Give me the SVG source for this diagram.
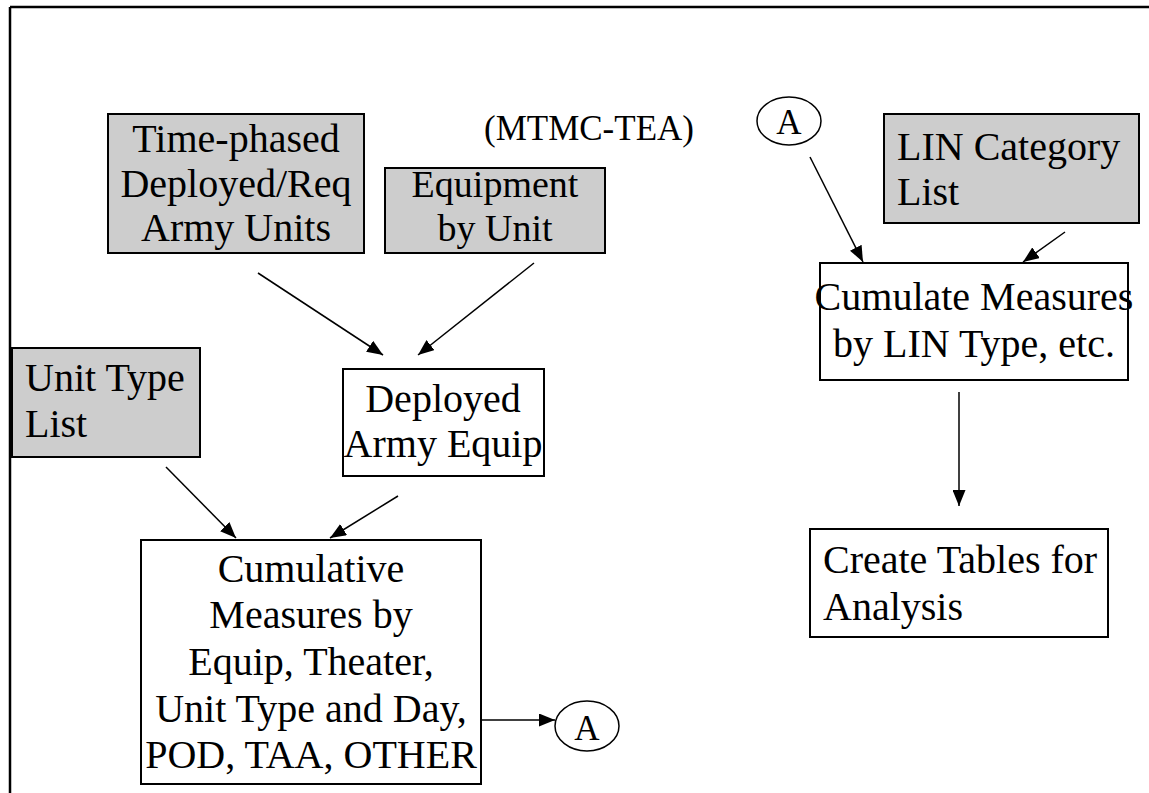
<svg xmlns="http://www.w3.org/2000/svg" width="1149" height="793" viewBox="0 0 1149 793">
<defs>
<style>
.box{stroke:#000;stroke-width:2;}
.g{fill:#cdcdcd;}
.w{fill:#fff;}
.t{font-family:"Liberation Serif","Times New Roman",serif;font-size:40px;fill:#000;}
.c{text-anchor:middle;}
.edge{stroke:#000;stroke-width:1.5;fill:none;marker-end:url(#ah);}
</style>
<marker id="ah" markerUnits="userSpaceOnUse" markerWidth="17" markerHeight="13" refX="16" refY="6.5" orient="auto">
<path d="M0,0 L16,6.5 L0,13 z" fill="#000"/>
</marker>
</defs>
<rect width="1149" height="793" fill="#fff"/>
<g id="frame">
<line x1="10" y1="7" x2="1149" y2="7" stroke="#000" stroke-width="2.5"/>
<line x1="10" y1="7" x2="10" y2="793" stroke="#000" stroke-width="2.5"/>
</g>
<g id="connectors">
<line class="edge" x1="258" y1="273" x2="383" y2="355"/>
<line class="edge" x1="534" y1="263" x2="418" y2="355"/>
<line class="edge" x1="166" y1="467" x2="236" y2="538"/>
<line class="edge" x1="398" y1="496" x2="330" y2="538"/>
<line class="edge" x1="481" y1="720" x2="555" y2="720"/>
<line class="edge" x1="810" y1="157" x2="863" y2="262"/>
<line class="edge" x1="1065" y1="232" x2="1023" y2="262"/>
<line class="edge" x1="959" y1="392" x2="959" y2="506"/>
</g>
<g id="time-phased">
<rect class="box g" x="108" y="114" width="256" height="139"/>
<text class="t c" x="236" y="152">Time-phased</text>
<text class="t c" x="236" y="197">Deployed/Req</text>
<text class="t c" x="236" y="241">Army Units</text>
</g>
<g id="mtmc">
<text class="t" x="484" y="140" style="font-size:35px">(MTMC-TEA)</text>
</g>
<g id="equipment">
<rect class="box g" x="385" y="168" width="220" height="85"/>
<text class="t c" x="495" y="197" style="font-size:38px">Equipment</text>
<text class="t c" x="495" y="241" style="font-size:38px">by Unit</text>
</g>
<g id="unit-type-list">
<rect class="box g" x="12" y="348" width="188" height="109"/>
<text class="t" x="25" y="391">Unit Type</text>
<text class="t" x="25" y="437">List</text>
</g>
<g id="deployed">
<rect class="box w" x="343" y="369" width="201" height="107"/>
<text class="t c" x="443" y="412">Deployed</text>
<text class="t c" x="443" y="457">Army Equip</text>
</g>
<g id="cumulative">
<rect class="box w" x="141" y="540" width="340" height="244"/>
<text class="t c" x="311" y="582">Cumulative</text>
<text class="t c" x="311" y="628">Measures by</text>
<text class="t c" x="311" y="675">Equip, Theater,</text>
<text class="t c" x="311" y="722">Unit Type and Day,</text>
<text class="t c" x="311" y="768">POD, TAA, OTHER</text>
</g>
<g id="a-out">
<ellipse cx="587" cy="726" rx="32" ry="25" fill="#fff" stroke="#000" stroke-width="1.5"/>
<text class="t c" x="587" y="740" style="font-size:35px">A</text>
</g>
<g id="a-in">
<ellipse cx="789" cy="121" rx="32" ry="24" fill="#fff" stroke="#000" stroke-width="1.5"/>
<text class="t c" x="789" y="134" style="font-size:35px">A</text>
</g>
<g id="lin-category">
<rect class="box g" x="884" y="114" width="255" height="109"/>
<text class="t" x="897" y="160">LIN Category</text>
<text class="t" x="897" y="205">List</text>
</g>
<g id="cumulate">
<rect class="box w" x="820" y="263" width="308" height="117"/>
<text class="t c" x="974" y="310">Cumulate Measures</text>
<text class="t c" x="974" y="357">by LIN Type, etc.</text>
</g>
<g id="create-tables">
<rect class="box w" x="810" y="529" width="298" height="108"/>
<text class="t" x="823" y="573">Create Tables for</text>
<text class="t" x="823" y="620">Analysis</text>
</g>
</svg>
